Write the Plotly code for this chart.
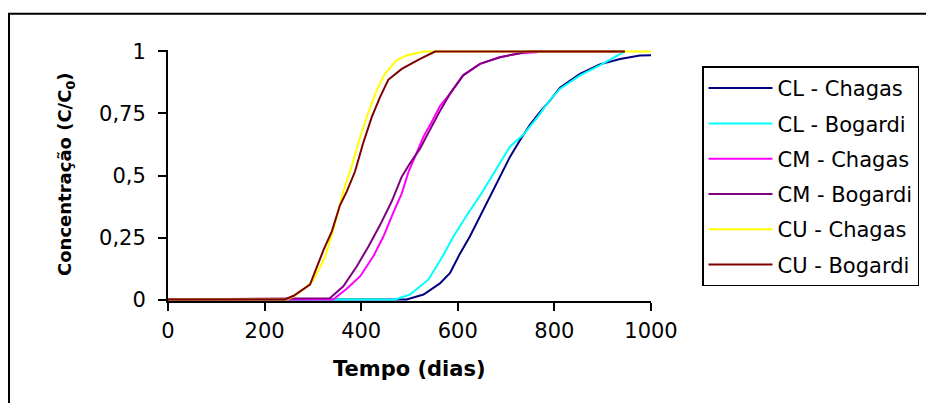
import plotly.graph_objects as go

# ---- data ----
cl_chagas_t = [0, 494, 529, 563, 584, 605, 625, 646, 667, 687, 708, 729, 749, 770, 791, 812, 853, 894, 936, 977, 1000]
cl_chagas_c = [0, 0, 0.02, 0.065, 0.107, 0.187, 0.254, 0.335, 0.415, 0.489, 0.575, 0.643, 0.703, 0.756, 0.803, 0.855, 0.91, 0.948, 0.97, 0.984, 0.985]

cl_bogardi_t = [0, 470, 501, 539, 566, 591, 618, 649, 670, 691, 708, 736, 765, 791, 812, 853, 894, 946]
cl_bogardi_c = [0, 0, 0.02, 0.08, 0.165, 0.254, 0.338, 0.428, 0.495, 0.562, 0.616, 0.665, 0.735, 0.805, 0.85, 0.904, 0.944, 1.0]

cm_chagas_t = [0, 342, 370, 398, 425, 446, 466, 484, 498, 511, 529, 546, 563, 584, 611, 646, 687, 729, 764]
cm_chagas_c = [0, 0, 0.043, 0.094, 0.174, 0.254, 0.348, 0.428, 0.515, 0.575, 0.656, 0.716, 0.78, 0.83, 0.904, 0.95, 0.977, 0.993, 0.997]

cm_bogardi_t = [0, 335, 363, 391, 415, 439, 463, 484, 501, 522, 542, 563, 584, 611, 646, 687, 729, 745, 946]
cm_bogardi_c = [0, 0.005, 0.053, 0.134, 0.214, 0.30, 0.395, 0.495, 0.549, 0.609, 0.683, 0.76, 0.83, 0.904, 0.95, 0.977, 0.993, 1.0, 1.0]

cu_chagas_t = [0, 245, 258, 280, 300, 325, 345, 363, 380, 398, 415, 432, 449, 473, 494, 529, 1000]
cu_chagas_c = [0, 0, 0.01, 0.04, 0.075, 0.17, 0.30, 0.435, 0.535, 0.656, 0.756, 0.843, 0.91, 0.964, 0.984, 1.0, 1.0]

cu_bogardi_t = [0, 242, 260, 294, 322, 339, 356, 370, 387, 404, 422, 439, 456, 484, 522, 553, 946]
cu_bogardi_c = [0, 0, 0.015, 0.06, 0.20, 0.274, 0.38, 0.435, 0.515, 0.63, 0.736, 0.816, 0.886, 0.93, 0.97, 1.0, 1.0]

series = [
    ("CL - Chagas", cl_chagas_t, cl_chagas_c, "#000080"),
    ("CL - Bogardi", cl_bogardi_t, cl_bogardi_c, "#00FFFF"),
    ("CM - Chagas", cm_chagas_t, cm_chagas_c, "#FF00FF"),
    ("CM - Bogardi", cm_bogardi_t, cm_bogardi_c, "#800080"),
    ("CU - Chagas", cu_chagas_t, cu_chagas_c, "#FFFF00"),
    ("CU - Bogardi", cu_bogardi_t, cu_bogardi_c, "#800000"),
]

x_ticks = [0, 200, 400, 600, 800, 1000]
x_ticktext = ["0", "200", "400", "600", "800", "1000"]
y_ticks = [0, 0.25, 0.5, 0.75, 1]
y_ticktext = ["0", "0,25", "0,5", "0,75", "1"]

FONT = "DejaVu Sans"

fig = go.Figure()
for name, t, c, col in series:
    fig.add_trace(go.Scatter(x=t, y=c, mode="lines", name=name, legendgroup=name,
                             line=dict(color=col, width=2)))

# geometry: page pixels of the reference, minus the 8px page margin
OFF = 8
W, H = 934 - OFF, 403 - OFF
L, R = 168 - OFF, 651 - OFF
T, B = 49.5 - OFF, 301.5 - OFF
pw, ph = R - L, B - T


def px(x):
    return (x - OFF - L) / pw


def py(y):
    return (B - (y - OFF)) / ph


fig.update_layout(
    width=W, height=H,
    margin=dict(l=L, r=W - R, t=T, b=H - B, autoexpand=False),
    paper_bgcolor="white", plot_bgcolor="white",
    showlegend=True,
    font=dict(family=FONT, color="black"),
    legend=dict(
        x=px(702), y=py(66), xanchor="left", yanchor="top",
        bordercolor="black", borderwidth=1.5, bgcolor="white",
        font=dict(family=FONT, size=21, color="black"),
        itemwidth=64, tracegroupgap=5, traceorder="grouped",
    ),
    xaxis=dict(
        range=[0, 1000], tickvals=x_ticks, ticktext=x_ticktext,
        ticks="outside", ticklen=8, tickwidth=2, tickcolor="black",
        showline=True, linewidth=2, linecolor="black",
        showgrid=False, zeroline=False,
        tickfont=dict(family=FONT, size=21, color="black"),
        ticklabelstandoff=2,
    ),
    yaxis=dict(
        range=[-0.006, 1.006], tickvals=y_ticks, ticktext=y_ticktext,
        ticks="outside", ticklen=8, tickwidth=2, tickcolor="black",
        showline=True, linewidth=2, linecolor="black",
        showgrid=False, zeroline=False,
        tickfont=dict(family=FONT, size=21, color="black"),
        ticklabelstandoff=8,
    ),
    annotations=[
        dict(text="<b>Tempo (dias)</b>", xref="paper", yref="paper",
             x=px(409), y=py(370), xanchor="center", yanchor="middle",
             showarrow=False, font=dict(family=FONT, size=21, color="black")),
        dict(text="<b>Concentração (C/C<sub>0</sub>)</b>", xref="paper", yref="paper",
             x=px(66), y=py(175), xanchor="center", yanchor="middle",
             textangle=-90, showarrow=False,
             font=dict(family=FONT, size=18, color="black")),
    ],
    shapes=[
        dict(type="rect", xref="paper", yref="paper", layer="below",
             x0=px(9), x1=px(950),
             y0=py(420), y1=py(13),
             line=dict(color="black", width=2), fillcolor="rgba(0,0,0,0)"),
    ],
)

fig.write_html("out.html")
